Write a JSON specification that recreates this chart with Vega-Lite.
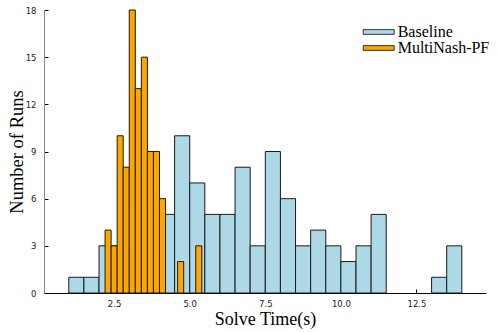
{
  "$schema": "https://vega.github.io/schema/vega-lite/v6.json",
  "width": 442,
  "height": 283,
  "autosize": {"type": "none"},
  "padding": {"left": 44, "top": 10, "right": 11, "bottom": 39},
  "background": "white",
  "config": {"view": {"stroke": null}},
  "data": {"values": [
    {"series": "Baseline", "start": 1.0, "end": 1.5, "count": 1},
    {"series": "Baseline", "start": 1.5, "end": 2.0, "count": 1},
    {"series": "Baseline", "start": 2.0, "end": 2.5, "count": 3},
    {"series": "Baseline", "start": 2.5, "end": 3.0, "count": 3},
    {"series": "Baseline", "start": 3.0, "end": 3.5, "count": 5},
    {"series": "Baseline", "start": 3.5, "end": 4.0, "count": 5},
    {"series": "Baseline", "start": 4.0, "end": 4.5, "count": 5},
    {"series": "Baseline", "start": 4.5, "end": 5.0, "count": 10},
    {"series": "Baseline", "start": 5.0, "end": 5.5, "count": 7},
    {"series": "Baseline", "start": 5.5, "end": 6.0, "count": 5},
    {"series": "Baseline", "start": 6.0, "end": 6.5, "count": 5},
    {"series": "Baseline", "start": 6.5, "end": 7.0, "count": 8},
    {"series": "Baseline", "start": 7.0, "end": 7.5, "count": 3},
    {"series": "Baseline", "start": 7.5, "end": 8.0, "count": 9},
    {"series": "Baseline", "start": 8.0, "end": 8.5, "count": 6},
    {"series": "Baseline", "start": 8.5, "end": 9.0, "count": 3},
    {"series": "Baseline", "start": 9.0, "end": 9.5, "count": 4},
    {"series": "Baseline", "start": 9.5, "end": 10.0, "count": 3},
    {"series": "Baseline", "start": 10.0, "end": 10.5, "count": 2},
    {"series": "Baseline", "start": 10.5, "end": 11.0, "count": 3},
    {"series": "Baseline", "start": 11.0, "end": 11.5, "count": 5},
    {"series": "Baseline", "start": 13.0, "end": 13.5, "count": 1},
    {"series": "Baseline", "start": 13.5, "end": 14.0, "count": 3},
    {"series": "MultiNash-PF", "start": 2.2, "end": 2.4, "count": 4},
    {"series": "MultiNash-PF", "start": 2.4, "end": 2.6, "count": 3},
    {"series": "MultiNash-PF", "start": 2.6, "end": 2.8, "count": 10},
    {"series": "MultiNash-PF", "start": 2.8, "end": 3.0, "count": 8},
    {"series": "MultiNash-PF", "start": 3.0, "end": 3.2, "count": 18},
    {"series": "MultiNash-PF", "start": 3.2, "end": 3.4, "count": 13},
    {"series": "MultiNash-PF", "start": 3.4, "end": 3.6, "count": 15},
    {"series": "MultiNash-PF", "start": 3.6, "end": 3.8, "count": 9},
    {"series": "MultiNash-PF", "start": 3.8, "end": 4.0, "count": 9},
    {"series": "MultiNash-PF", "start": 4.0, "end": 4.2, "count": 6},
    {"series": "MultiNash-PF", "start": 4.6, "end": 4.8, "count": 2},
    {"series": "MultiNash-PF", "start": 5.2, "end": 5.4, "count": 3}
  ]},
  "mark": {"type": "rect", "stroke": "#1a1a1a", "strokeWidth": 1},
  "encoding": {
    "x": {
      "field": "start", "type": "quantitative",
      "scale": {"domain": [0.18, 14.8], "nice": false, "zero": false},
      "axis": {
        "title": "Solve Time(s)",
        "values": [2.5, 5, 7.5, 10, 12.5],
        "format": ".1f",
        "grid": false,
        "domainColor": "#000000",
        "domainWidth": 1,
        "tickColor": "#000000",
        "tickSize": -4,
        "labelPadding": 10,
        "labelFont": "DejaVu Sans",
        "labelFontSize": 8.5,
        "labelColor": "#222222",
        "titleFont": "Liberation Serif",
        "titleFontSize": 18,
        "titleFontWeight": "normal",
        "titleColor": "#000000",
        "titlePadding": 3
      }
    },
    "x2": {"field": "end"},
    "y": {
      "field": "count", "type": "quantitative",
      "scale": {"domain": [0, 18], "nice": false},
      "axis": {
        "title": "Number of Runs",
        "values": [0, 3, 6, 9, 12, 15, 18],
        "grid": false,
        "domainColor": "#888888",
        "domainWidth": 1,
        "tickColor": "#000000",
        "tickSize": -4,
        "labelPadding": 12,
        "labelFont": "DejaVu Sans",
        "labelFontSize": 8.5,
        "labelColor": "#222222",
        "titleFont": "Liberation Serif",
        "titleFontSize": 18.5,
        "titleFontWeight": "normal",
        "titleColor": "#000000",
        "titlePadding": -1
      }
    },
    "y2": {"datum": 0},
    "fill": {
      "field": "series", "type": "nominal",
      "scale": {"domain": ["Baseline", "MultiNash-PF"], "range": ["#ADD8E6", "#FFA500"]},
      "legend": {
        "title": null,
        "orient": "none",
        "legendX": 326.7,
        "legendY": 14,
        "padding": 0,
        "symbolType": "M-3.1,-0.47H3.1V0.47H-3.1Z",
        "symbolSize": 100,
        "symbolStrokeColor": "#333333",
        "symbolStrokeWidth": 1,
        "symbolOpacity": 1,
        "labelFont": "Liberation Serif",
        "labelFontSize": 16,
        "labelColor": "#000000",
        "labelOffset": 11,
        "rowPadding": -3,
        "labelLimit": 200
      }
    }
  }
}
